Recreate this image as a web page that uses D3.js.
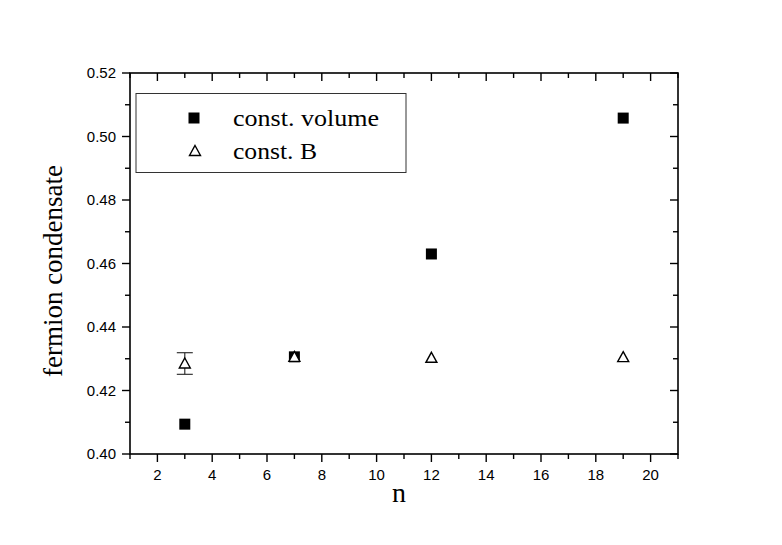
<!DOCTYPE html>
<html><head><meta charset="utf-8">
<script src="https://cdn.jsdelivr.net/npm/d3@7"></script>
<style>body{margin:0;background:#fff}svg{display:block}</style>
</head><body><svg id="c" width="782" height="545"></svg>
<script>
const nValues = [3, 7, 12, 19];
const constVolume = [0.4094, 0.4306, 0.4630, 0.5058];
const constB = [0.4285, 0.4306, 0.4303, 0.4305];
const constBErr = [0.0034, 0, 0, 0];
const xTicks = [2, 4, 6, 8, 10, 12, 14, 16, 18, 20];
const yTicks = [0.40, 0.42, 0.44, 0.46, 0.48, 0.50, 0.52];
const seriesNames = ["const. volume", "const. B"];

const svg = d3.select("#c");
const L = 130, R = 678, T = 73, B = 454;
const x = d3.scaleLinear().domain([1, 21]).range([L, R]);
const y = d3.scaleLinear().domain([0.40, 0.52]).range([B, T]);
const xMinor = d3.range(1, 22, 1);
const yMinor = d3.range(0, 13).map(i => +(0.40 + i * 0.01).toFixed(2));
const tickFont = "'Liberation Sans', Arial, sans-serif";
const serif = "'Liberation Serif', 'Times New Roman', serif";

// frame
svg.append("rect").attr("x", L).attr("y", T).attr("width", R - L).attr("height", B - T)
  .attr("fill", "none").attr("stroke", "#000").attr("stroke-width", 1.6);

const isMajorX = v => v % 2 === 0;
const isMajorY = v => Math.round(v * 100) % 2 === 0;
const g = svg.append("g").attr("stroke", "#000").attr("stroke-width", 1.4);
xMinor.forEach(v => {
  const len = isMajorX(v) ? 8 : 5;
  g.append("line").attr("x1", x(v)).attr("x2", x(v)).attr("y1", B).attr("y2", B + len);
  g.append("line").attr("x1", x(v)).attr("x2", x(v)).attr("y1", T).attr("y2", T + len);
});
yMinor.forEach(v => {
  const len = isMajorY(v) ? 8 : 5;
  g.append("line").attr("y1", y(v)).attr("y2", y(v)).attr("x1", L).attr("x2", L - len);
  g.append("line").attr("y1", y(v)).attr("y2", y(v)).attr("x1", R).attr("x2", R - len);
});

// tick labels
svg.append("g").selectAll("text").data(xTicks).join("text")
  .attr("x", d => x(d)).attr("y", 480).attr("text-anchor", "middle")
  .style("font-family", tickFont).attr("font-size", 15).text(d => d);
svg.append("g").selectAll("text").data(yTicks).join("text")
  .attr("x", 116).attr("y", d => y(d) + 5).attr("text-anchor", "end")
  .style("font-family", tickFont).attr("font-size", 15).text(d => d.toFixed(2));

// axis titles
svg.append("text").attr("x", 399).attr("y", 502).attr("text-anchor", "middle")
  .style("font-family", serif).attr("font-size", 28).text("n");
svg.append("text").attr("transform", "translate(62,271) rotate(-90)").attr("text-anchor", "middle")
  .style("font-family", serif).attr("font-size", 27).text("fermion condensate");

// data
const sq = 11;
svg.append("g").selectAll("rect").data(nValues).join("rect")
  .attr("x", (d) => x(d) - sq / 2).attr("y", (d, i) => y(constVolume[i]) - sq / 2)
  .attr("width", sq).attr("height", sq).attr("fill", "#000");

// error bars
const eb = svg.append("g").attr("stroke", "#222").attr("stroke-width", 1.1);
nValues.forEach((n, i) => {
  if (!constBErr[i]) return;
  const y1 = y(constB[i] + constBErr[i]), y2 = y(constB[i] - constBErr[i]);
  eb.append("line").attr("x1", x(n)).attr("x2", x(n)).attr("y1", y1).attr("y2", y2);
  eb.append("line").attr("x1", x(n) - 8).attr("x2", x(n) + 8).attr("y1", y1).attr("y2", y1);
  eb.append("line").attr("x1", x(n) - 8).attr("x2", x(n) + 8).attr("y1", y2).attr("y2", y2);
});
const tri = (cx, cy) => `M${cx},${cy - 5.5}L${cx + 5.5},${cy + 4.5}L${cx - 5.5},${cy + 4.5}Z`;
svg.append("g").selectAll("path").data(nValues).join("path")
  .attr("d", (d, i) => tri(x(d), y(constB[i])))
  .attr("fill", "#fff").attr("stroke", "#000").attr("stroke-width", 1.4);

// legend
const lg = svg.append("g");
lg.append("rect").attr("x", 136).attr("y", 93.5).attr("width", 270).attr("height", 79)
  .attr("fill", "#fff").attr("stroke", "#333").attr("stroke-width", 1);
lg.append("rect").attr("x", 194 - sq / 2).attr("y", 118 - sq / 2).attr("width", sq).attr("height", sq).attr("fill", "#000");
lg.append("path").attr("d", tri(195, 151)).attr("fill", "#fff").attr("stroke", "#000").attr("stroke-width", 1.4);
lg.append("text").attr("x", 233).attr("y", 126).style("font-family", serif).attr("font-size", 24)
  .attr("textLength", 146).attr("lengthAdjust", "spacingAndGlyphs").text(seriesNames[0]);
lg.append("text").attr("x", 233).attr("y", 159).style("font-family", serif).attr("font-size", 24)
  .attr("textLength", 84).attr("lengthAdjust", "spacingAndGlyphs").text(seriesNames[1]);
</script></body></html>
